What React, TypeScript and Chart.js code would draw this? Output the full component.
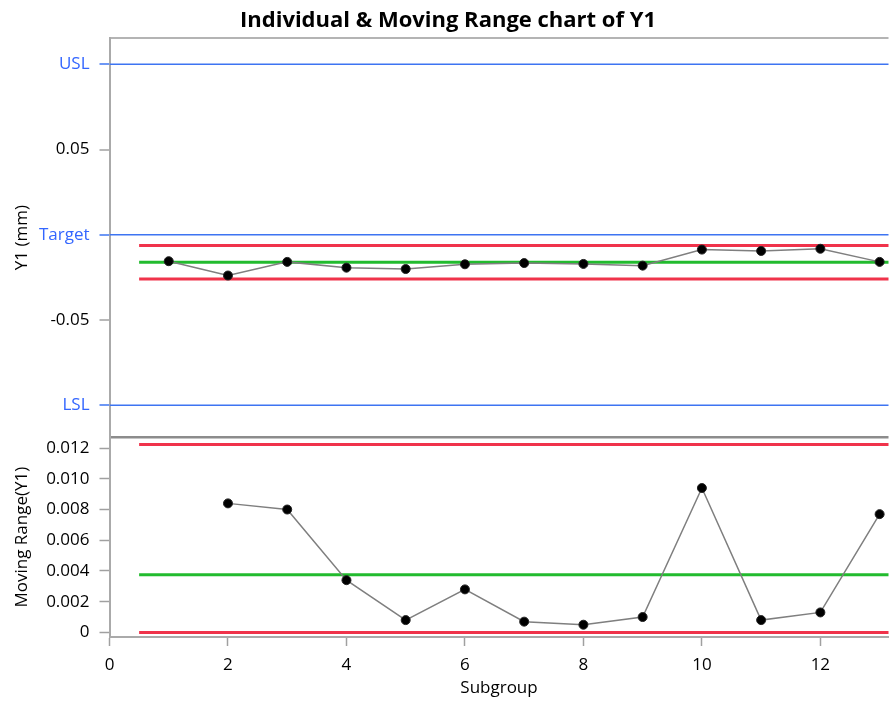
import React, { useEffect, useRef } from 'react';
import { Chart, registerables } from 'chart.js';

Chart.register(...registerables);

const chartTitle = 'Individual & Moving Range chart of Y1';
const subgroups = [1, 2, 3, 4, 5, 6, 7, 8, 9, 10, 11, 12, 13];
const individualValues = [-0.0155, -0.0239, -0.0159, -0.0193, -0.0201, -0.0173, -0.0166, -0.0171, -0.0181, -0.0087, -0.0095, -0.0082, -0.0159];
const movingRangeValues = [null, 0.0084, 0.008, 0.0034, 0.0008, 0.0028, 0.0007, 0.0005, 0.001, 0.0094, 0.0008, 0.0013, 0.0077];

const specLabels = ['USL', 'Target', 'LSL'];
const specValues = [0.1, 0, -0.1];
const individualRefTicks = [0.05, -0.05];
const individualRefLabels = ['0.05', '-0.05'];

// UCL, CL, LCL
const individualLimitValues = [-0.0063, -0.0161, -0.026];
const movingRangeLimitValues = [0.01224, 0.00375, 0];
const limitSpan = [0.5, 13.5];
const specSpan = [0, 14];

const mrTicks = [0, 0.002, 0.004, 0.006, 0.008, 0.01, 0.012];
const mrTickLabels = ['0', '0.002', '0.004', '0.006', '0.008', '0.010', '0.012'];
const xTicks = [0, 2, 4, 6, 8, 10, 12];

const xRange = [0, 13.15];
const individualRange = [-0.1188, 0.1154];
const mrRange = [-0.0003, 0.0127];

const FONT = "'Open Sans', 'Noto Sans', sans-serif";
const BLUE_LINE = '#3d74f2';
const BLUE_TEXT = '#3366ff';
const RED = '#f0334b';
const GREEN = '#22bb2e';
const AXIS_GRAY = '#aaaaaa';
const TICK_GRAY = '#a0a0a0';

const isSpec = (v: number) => specValues.some((s) => Math.abs(s - v) < 1e-9);

export default function App() {
  const canvasRef = useRef<HTMLCanvasElement | null>(null);

  useEffect(() => {
    if (!canvasRef.current) return;

    const limitColors = [RED, GREEN, RED];

    const datasets: any[] = [
      {
        label: 'Individuals',
        data: subgroups.map((s, i) => ({ x: s, y: individualValues[i] })),
        yAxisID: 'yI',
        borderColor: '#7f7f7f',
        borderWidth: 1.5,
        pointRadius: 4.5,
        pointBackgroundColor: '#000000',
        pointBorderColor: '#222222',
        pointBorderWidth: 1,
        tension: 0,
      },
      {
        label: 'Moving Range',
        data: subgroups
          .map((s, i) => ({ x: s, y: movingRangeValues[i] }))
          .filter((p) => p.y !== null),
        yAxisID: 'yMR',
        borderColor: '#7f7f7f',
        borderWidth: 1.5,
        pointRadius: 4.5,
        pointBackgroundColor: '#000000',
        pointBorderColor: '#222222',
        pointBorderWidth: 1,
        tension: 0,
      },
    ];

    individualLimitValues.forEach((v, i) => {
      datasets.push({
        label: 'I limit ' + i,
        data: limitSpan.map((x) => ({ x, y: v })),
        yAxisID: 'yI',
        borderColor: limitColors[i],
        borderWidth: 3,
        pointRadius: 0,
      });
    });
    movingRangeLimitValues.forEach((v, i) => {
      datasets.push({
        label: 'MR limit ' + i,
        data: limitSpan.map((x) => ({ x, y: v })),
        yAxisID: 'yMR',
        borderColor: limitColors[i],
        borderWidth: 3,
        pointRadius: 0,
      });
    });
    specValues.forEach((v, i) => {
      datasets.push({
        label: specLabels[i],
        data: specSpan.map((x) => ({ x, y: v })),
        yAxisID: 'yI',
        borderColor: BLUE_LINE,
        borderWidth: 1.5,
        pointRadius: 0,
      });
    });

    const chart = new Chart(canvasRef.current, {
      type: 'line',
      data: { datasets },
      options: {
        animation: false,
        responsive: false,
        maintainAspectRatio: false,
        layout: { padding: { left: 2, right: 0, top: 0, bottom: 0 } },
        plugins: {
          legend: { display: false },
          tooltip: { enabled: false },
          title: {
            display: true,
            text: chartTitle,
            color: '#000000',
            font: { family: FONT, size: 22, weight: 'bold' },
            padding: { top: 8, bottom: 3.6 },
          },
        },
        scales: {
          x: {
            type: 'linear',
            position: 'bottom',
            min: xRange[0],
            max: xRange[1],
            afterBuildTicks: (scale: any) => {
              scale.ticks = xTicks.map((v) => ({ value: v }));
            },
            afterFit: (scale: any) => {
              scale.height = 64;
            },
            ticks: {
              autoSkip: false,
              color: '#000000',
              font: { family: FONT, size: 17 },
              padding: 9,
              maxRotation: 0,
              callback: (v: any) => String(v),
            },
            grid: {
              drawOnChartArea: false,
              drawTicks: true,
              tickLength: 9,
              tickColor: TICK_GRAY,
              tickWidth: 1.5,
            },
            border: { display: true, color: AXIS_GRAY, width: 2 },
            title: {
              display: true,
              text: 'Subgroup',
              color: '#000000',
              font: { family: FONT, size: 17 },
              padding: { top: 0, bottom: 3 },
            },
          },
          yMR: {
            type: 'linear',
            position: 'left',
            stack: 'ir',
            stackWeight: 1,
            min: mrRange[0],
            max: mrRange[1],
            afterBuildTicks: (scale: any) => {
              scale.ticks = mrTicks.map((v) => ({ value: v }));
            },
            afterFit: (scale: any) => {
              scale.width = 107.5;
            },
            ticks: {
              autoSkip: false,
              color: '#000000',
              font: { family: FONT, size: 17 },
              padding: 10,
              callback: (_v: any, index: number) => mrTickLabels[index],
            },
            grid: {
              drawOnChartArea: false,
              drawTicks: true,
              tickLength: 10,
              tickColor: TICK_GRAY,
              tickWidth: 1.5,
            },
            border: { display: true, color: AXIS_GRAY, width: 2 },
            title: {
              display: true,
              text: 'Moving Range(Y1)',
              color: '#000000',
              font: { family: FONT, size: 17 },
              padding: { top: 10, bottom: 0 },
            },
          },
          yI: {
            type: 'linear',
            position: 'left',
            stack: 'ir',
            stackWeight: 2,
            min: individualRange[0],
            max: individualRange[1],
            afterBuildTicks: (scale: any) => {
              const vals = [individualRange[0], ...specValues, ...individualRefTicks, individualRange[1]].sort(
                (a, b) => a - b
              );
              scale.ticks = vals.map((v) => ({ value: v }));
            },
            afterFit: (scale: any) => {
              scale.width = 107.5;
            },
            ticks: {
              autoSkip: false,
              font: { family: FONT, size: 17 },
              padding: 10,
              color: (ctx: any) => (isSpec(ctx.tick.value) ? BLUE_TEXT : '#000000'),
              callback: (v: any) => {
                const si = specValues.findIndex((s) => Math.abs(s - v) < 1e-9);
                if (si >= 0) return specLabels[si];
                const ri = individualRefTicks.findIndex((s) => Math.abs(s - v) < 1e-9);
                if (ri >= 0) return individualRefLabels[ri];
                return '';
              },
            },
            grid: {
              drawOnChartArea: true,
              drawTicks: true,
              tickLength: 10,
              color: (ctx: any) => {
                const v = ctx.tick ? ctx.tick.value : NaN;
                if (v === individualRange[1]) return '#b4b4b4';
                if (v === individualRange[0]) return '#8c8c8c';
                return 'rgba(0,0,0,0)';
              },
              lineWidth: (ctx: any) => {
                const v = ctx.tick ? ctx.tick.value : NaN;
                if (v === individualRange[0]) return 2.5;
                return 2;
              },
              tickColor: (ctx: any) => {
                const v = ctx.tick ? ctx.tick.value : NaN;
                if (v === individualRange[0] || v === individualRange[1]) return 'rgba(0,0,0,0)';
                return isSpec(v) ? BLUE_LINE : TICK_GRAY;
              },
              tickWidth: 1.5,
            },
            border: { display: true, color: AXIS_GRAY, width: 2 },
            title: {
              display: true,
              text: 'Y1 (mm)',
              color: '#000000',
              font: { family: FONT, size: 17 },
              padding: { top: 10, bottom: 0 },
            },
          },
        },
      } as any,
    });

    return () => {
      chart.destroy();
    };
  }, []);

  return (
    <div
      style={{
        position: 'absolute',
        left: 0,
        top: 0,
        width: 889,
        height: 701,
        overflow: 'hidden',
        background: '#ffffff',
      }}
    >
      <canvas ref={canvasRef} width={894} height={701} style={{ display: 'block' }} />
    </div>
  );
}
